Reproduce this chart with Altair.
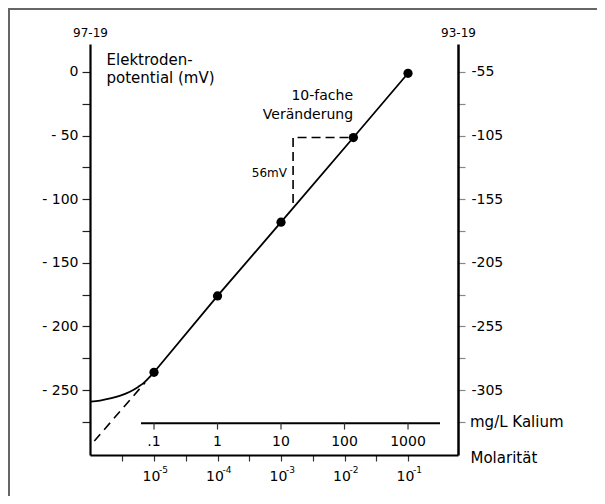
import altair as alt
import pandas as pd

FONT = "DejaVu Sans"

# ---- data ----
molar_exp = [-5, -4, -3, -1.86, -1]          # log10 molarity of measured points
potential_mv = [-236, -176, -118, -51.5, -1]  # electrode potential (mV)

curve_x = [-6.0, -5.85, -5.69, -5.53, -5.38, -5.25, -5.17, -5.09, -5.0]
curve_y = [-259, -258.2, -256.5, -254.3, -251.3, -247.5, -244.7, -240.8, -236]

extrap_x = [-5.94, -5.14]
extrap_y = [-290, -244]

step_x = [-2.81, -2.81, -1.86]
step_y = [-103, -51.5, -51.5]

left_ticks = [0, -25, -50, -75, -100, -125, -150, -175, -200, -225, -250, -275]
bottom_ticks = [-5.5, -5, -4.5, -4, -3.5, -3, -2.5, -2, -1.5, -1]

molar_exponents = ["-5", "-4", "-3", "-2", "-1"]
molar_exp_pos = [-5, -4, -3, -2, -1]

kalium_labels = [".1", "1", "10", "100", "1000"]
kalium_pos = [-5, -4, -3, -2, -1]

W, H = 368, 411
XDOM = [-6.008, -0.213]
YDOM = [-301, 22]

xs = alt.Scale(domain=XDOM, nice=False, zero=False)
ys = alt.Scale(domain=YDOM, nice=False, zero=False)

pts = pd.DataFrame({"x": molar_exp, "y": potential_mv})
curve = pd.DataFrame({"x": curve_x, "y": curve_y, "o": range(len(curve_x))})
extrap = pd.DataFrame({"x": extrap_x, "y": extrap_y})
step = pd.DataFrame({"x": step_x, "y": step_y, "o": range(len(step_x))})

left_axis = alt.Axis(
    orient="left", values=left_ticks,
    labelExpr="datum.value % 50 != 0 ? '' : (datum.value == 0 ? '0' : '- ' + (-datum.value))",
    title="97-19", titleAngle=0, titleX=0, titleY=-12, titleAlign="center",
    titleBaseline="middle", titleFont=FONT, titleFontSize=12, titleFontWeight="normal",
    titleColor="#000",
    domainColor="#000", domainWidth=2.2, tickColor="#222", tickWidth=1.2, tickSize=8,
    labelFont=FONT, labelFontSize=14, labelColor="#000", labelPadding=4, grid=False,
)
right_axis = alt.Axis(
    orient="right", values=left_ticks,
    labelExpr="datum.value % 50 != 0 ? '' : '-' + (55 - datum.value)",
    title="93-19", titleAngle=0, titleX=0, titleY=-12, titleAlign="center",
    titleBaseline="middle", titleFont=FONT, titleFontSize=12, titleFontWeight="normal",
    titleColor="#000",
    domainColor="#000", domainWidth=2.5, tickColor="#888", tickWidth=1.2, tickSize=7,
    labelFont=FONT, labelFontSize=14, labelColor="#000", labelPadding=6, grid=False,
)
bottom_axis = alt.Axis(
    orient="bottom", values=bottom_ticks,
    labelExpr="datum.value % 1 == 0 ? '10' : ''",
    title="Molarität", titleX=380, titleY=2, titleAlign="left", titleBaseline="middle",
    titleFont=FONT, titleFontSize=15, titleFontWeight="normal", titleColor="#000",
    domainColor="#000", domainWidth=2.2, tickColor="#333", tickWidth=1.2, tickSize=6,
    labelFont=FONT, labelFontSize=14, labelColor="#000", labelPadding=8, labelOffset=-3,
    grid=False,
)


def X(field="x:Q"):
    return alt.X(field, scale=xs, axis=bottom_axis)


def Y(field="y:Q"):
    return alt.Y(field, scale=ys, axis=None)


base = alt.Chart(pts)

line = base.mark_line(color="#000", strokeWidth=1.8).encode(
    x=X(),
    y=alt.Y("y:Q", scale=ys, axis=left_axis),
)
right = base.mark_point(opacity=0).encode(
    x=X(), y=alt.Y("y:Q", scale=ys, axis=right_axis)
)
dots = base.mark_circle(color="#000", opacity=1, size=85).encode(x=X(), y=Y())

curve_l = alt.Chart(curve).mark_line(color="#000", strokeWidth=1.8, interpolate="monotone").encode(
    x=X(), y=Y(), order="o:Q"
)
extrap_l = alt.Chart(extrap).mark_line(color="#000", strokeWidth=1.6, strokeDash=[9, 6]).encode(
    x=X(), y=Y()
)
step_l = alt.Chart(step).mark_line(color="#000", strokeWidth=1.6, strokeDash=[9, 5]).encode(
    x=X(), y=Y(), order="o:Q"
)

# molar exponents
exps = alt.Chart(pd.DataFrame({"x": molar_exp_pos, "t": molar_exponents})).mark_text(
    font=FONT, fontSize=9, align="left", baseline="middle", dx=5, color="#000"
).encode(x=X(), y=alt.YDatum(-313, scale=ys, axis=None), text="t:N")

# inner mg/L Kalium axis
kal_line = alt.Chart(pd.DataFrame({"x": [-5.205], "x2": [-0.496]})).mark_rule(
    color="#000", strokeWidth=2
).encode(x=X(), x2="x2:Q", y=alt.YDatum(-276, scale=ys, axis=None))
kal_df = pd.DataFrame({"x": kalium_pos, "t": kalium_labels})
kal_ticks = alt.Chart(kal_df).mark_rule(color="#333", strokeWidth=1.2).encode(
    x=X(), y=alt.YDatum(-276, scale=ys, axis=None), y2=alt.Y2Datum(-281)
)
kal_text = alt.Chart(kal_df).mark_text(
    font=FONT, fontSize=14, baseline="middle", align="center", color="#000"
).encode(x=X(), y=alt.YDatum(-291, scale=ys, axis=None), text="t:N")

# annotations
left_txt = alt.Chart(pd.DataFrame({
    "x": [-5.748, -5.748, -0.024],
    "y": [9.5, -4.5, -275],
    "t": ["Elektroden-", "potential (mV)", "mg/L Kalium"],
})).mark_text(font=FONT, fontSize=15, align="left", baseline="middle", color="#000").encode(
    x=X(), y=Y(), text="t:N"
)
fach_txt = alt.Chart(pd.DataFrame({
    "x": [-1.866, -1.866], "y": [-19, -34], "t": ["10-fache", "Veränderung"],
})).mark_text(font=FONT, fontSize=14, align="right", baseline="middle", color="#000").encode(
    x=X(), y=Y(), text="t:N"
)
mv_txt = alt.Chart(pd.DataFrame({"x": [-2.906], "y": [-79.4], "t": ["56mV"]})).mark_text(
    font=FONT, fontSize=12, align="right", baseline="middle", color="#000"
).encode(x=X(), y=Y(), text="t:N")

# frame (top and left edge of the figure box)
frame_top = alt.Chart(pd.DataFrame({"a": [0]})).mark_rule(color="#666", strokeWidth=2).encode(
    x=alt.value(-82), x2=alt.value(W + 139), y=alt.value(-35)
)
frame_left = alt.Chart(pd.DataFrame({"a": [0]})).mark_rule(color="#666", strokeWidth=2).encode(
    x=alt.value(-81), y=alt.value(-36), y2=alt.value(H + 41)
)

chart = alt.layer(
    line, right, curve_l, extrap_l, step_l, dots, exps,
    kal_line, kal_ticks, kal_text, left_txt, fach_txt, mv_txt,
    frame_top, frame_left,
).resolve_axis(y="independent").resolve_scale(y="shared").properties(
    width=W, height=H,
    autosize=alt.AutoSizeParams(type="none"),
    padding={"left": 82, "top": 36, "right": 139, "bottom": 41},
    background="white",
).configure_view(strokeWidth=0)

chart.save("out.html", embed_options={"renderer": "svg", "actions": False})
